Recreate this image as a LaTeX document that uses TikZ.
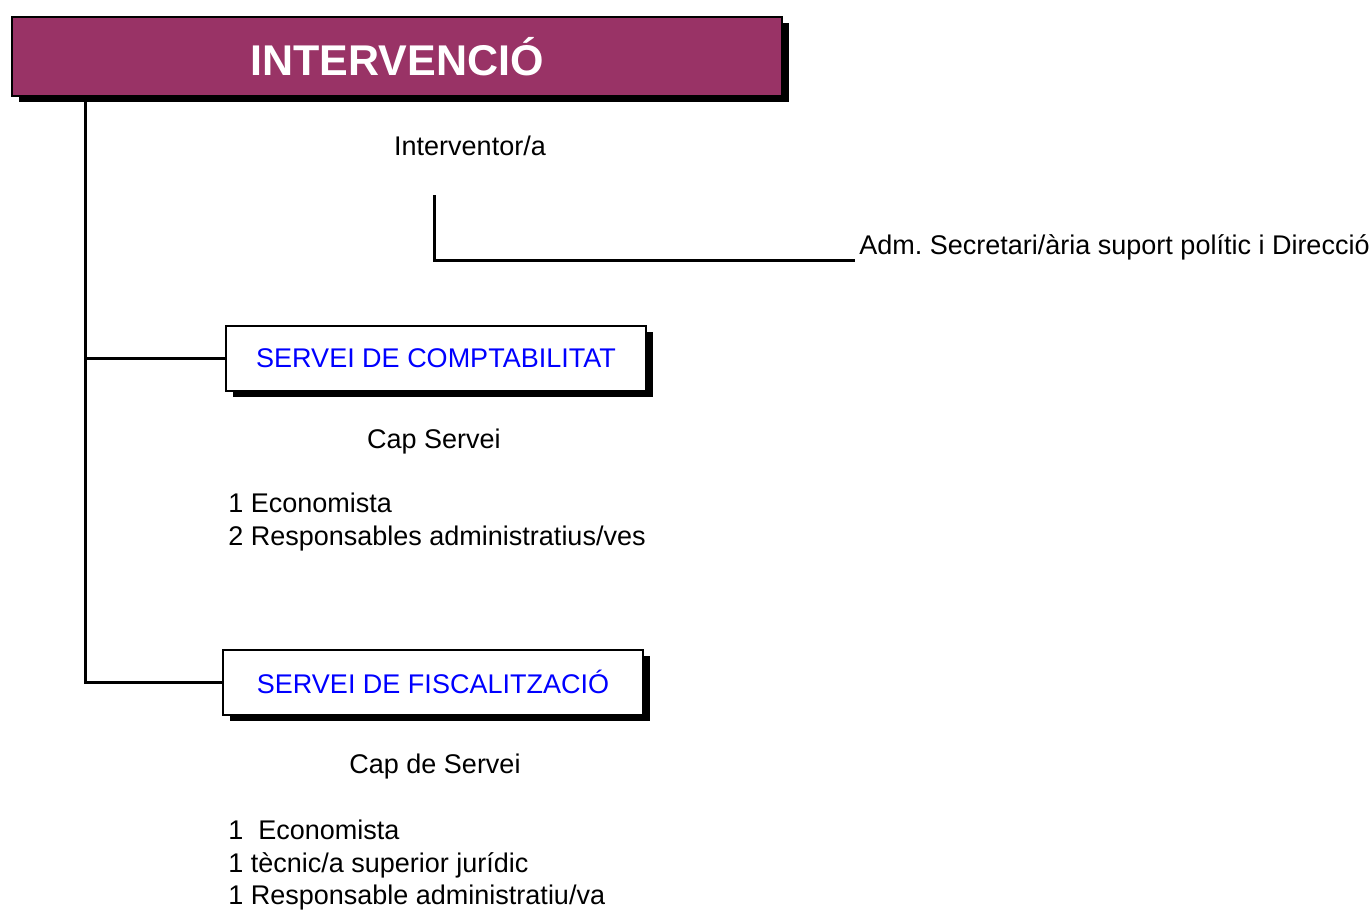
\documentclass[tikz,border=0pt]{standalone}
\usepackage{fontspec}
\setmainfont{Liberation Sans}
\usepackage{xcolor}
\usetikzlibrary{shadows}
\frenchspacing

\definecolor{intervred}{HTML}{993366}
\definecolor{servblue}{RGB}{0,0,255}

\begin{document}
\begin{tikzpicture}[
  x=0.5pt,
  y=-0.5pt,
  every node/.style={font=\fontsize{13.5}{16.25}\selectfont},
  orgline/.style={line width=1.5pt},
  boxshadow/.style={drop shadow={shadow xshift=3.5pt, shadow yshift=-3pt,
      fill=black, opacity=1}},
  headbox/.style={draw=black, line width=1pt, fill=intervred, text=white,
      minimum width=385pt, minimum height=39.5pt, boxshadow,
      font=\fontsize{21.5}{26}\selectfont\bfseries},
  servbox/.style={draw=black, line width=1pt, fill=white, text=servblue,
      minimum width=210pt, minimum height=32.5pt, boxshadow},
  stafflist/.style={anchor=north west, align=left, inner sep=0pt}
]
  \useasboundingbox (0,0) rectangle (1372,912);

  % Head of the area
  \node[headbox] (intervencio) at (397,56.5) {INTERVENCIÓ};
  \node[anchor=base] (interventor) at (470,155) {Interventor/a};

  % Support staff, hanging from the head
  \coordinate (suport) at (434,195);
  \node[anchor=south west, inner xsep=2pt, inner ysep=0pt] (adm) at (855,260)
    {Adm. Secretari/ària suport polític i Direcció};
  \draw[orgline] (suport) |- (adm.south west);

  % Services
  \node[servbox] (comptab) at (436,358.5) {SERVEI DE COMPTABILITAT};
  \node[servbox] (fiscal)  at (433,682)   {SERVEI DE FISCALITZACIÓ};

  % Trunk from the head box down to the services
  \coordinate (trunk) at (85,96);
  \draw[orgline] (trunk) |- (fiscal.west);
  \draw[orgline] (comptab.west) -- (comptab.west -| trunk);

  % Staff of each service
  \node[anchor=base] (capcomptab) at (434,448) {Cap Servei};
  \node[stafflist] (llistacomptab) at (228,493)
    {1 Economista\\2 Responsables administratius/ves};

  \node[anchor=base] (capfiscal) at (435,773) {Cap de Servei};
  \node[stafflist] (llistafiscal) at (228,820)
    {1\ \ Economista\\1 tècnic/a superior jurídic\\1 Responsable administratiu/va};
\end{tikzpicture}
\end{document}
